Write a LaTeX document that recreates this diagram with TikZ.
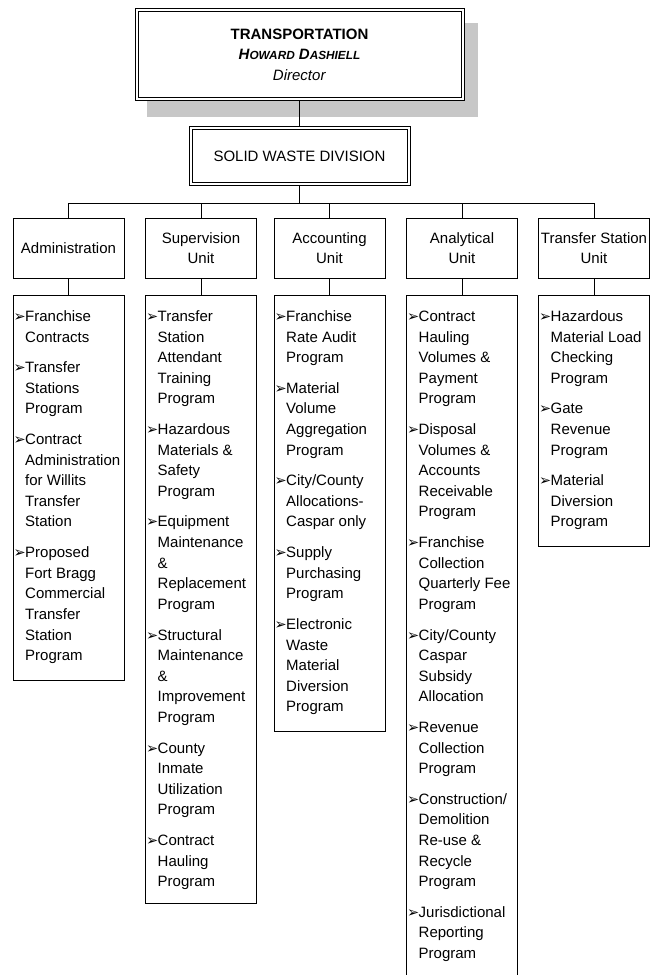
\documentclass[tikz,border=0pt]{standalone}
\usepackage{fontspec}
\setmainfont{Liberation Sans}
\newfontfamily\dvs{DejaVu Sans}
\tikzset{
  x=1pt, y=-1pt,
  conn/.style={draw, line width=0.8pt},
  obox/.style={draw, line width=0.7pt, fill=white, inner sep=0pt, align=center},
  ibord/.style={draw, line width=0.7pt, inner sep=0pt, align=center},
  lbox/.style={draw, line width=0.8pt, fill=white, inner sep=0pt, align=center, minimum width=111pt, minimum height=60pt},
  ibox/.style={draw, line width=0.8pt, minimum width=111pt, anchor=north, inner sep=0pt},
  itxt/.style={anchor=base west, inner sep=0pt},
}
\newcommand\bul{\makebox[11pt][l]{\hspace*{-0.5pt}\raisebox{0pt}{\dvs\fontsize{14.5}{12}\selectfont ➢}}}
\newcommand\bl[1]{\hbox{\bul#1}}
\newcommand\cl[1]{\hbox{\hspace*{11pt}#1}}
\newcommand\gp{\vskip10.27pt}
\newcommand\itemlist[1]{\vtop{\baselineskip=20.55pt\lineskiplimit=-100pt #1}}
\begin{document}
\begin{tikzpicture}[font=\fontsize{15}{20.55}\selectfont]
\useasboundingbox (0,0) rectangle (653,975);
% shadow of top box
\fill[black!22] (147,23) rectangle (478,117);
\node[obox, minimum width=329pt, minimum height=92pt] (top) at (299.5,54.5) {};
\node[ibord, minimum width=323pt, minimum height=86pt] (topin) at (299.5,54.5)
  {\textbf{TRANSPORTATION}\\
   \textbf{\textit{H{\fontsize{11.8}{12}\selectfont OWARD} D{\fontsize{11.8}{12}\selectfont ASHIELL}}}\\
   \textit{Director}};
\node[obox, minimum width=221pt, minimum height=59pt] (sw) at (299.5,156) {};
\node[ibord, minimum width=215pt, minimum height=53pt] (swin) at (299.5,156) {SOLID WASTE DIVISION};
% level 2
\node[lbox] (adm) at (68.5,248) {Administration};
\node[lbox] (sup) at (201,248) {Supervision\\Unit};
\node[lbox] (acc) at (329.5,248) {Accounting\\Unit};
\node[lbox] (ana) at (462,248) {Analytical\\Unit};
\node[lbox] (trs) at (594,248) {Transfer Station\\Unit};
% item boxes
\node[ibox, minimum height=385pt] (iadm) at (68.5,295) {};
\node[ibox, minimum height=608pt] (isup) at (201,295) {};
\node[ibox, minimum height=436pt] (iacc) at (329.5,295) {};
\node[ibox, minimum height=705pt] (iana) at (462,295) {};
\node[ibox, minimum height=251pt] (itrs) at (594,295) {};
% connectors
\coordinate (busL) at (68.5,203);
\coordinate (busR) at (594,203);
\draw[conn] (top.south) -- (sw.north);
\draw[conn] (sw.south) -- (sw.south |- busL);
\draw[conn] (busL) -- (busR);
\foreach \a/\b in {adm/iadm, sup/isup, acc/iacc, ana/iana, trs/itrs}{
  \draw[conn] (\a.north) -- (\a.north |- busL);
  \draw[conn] (\a.south) -- (\b.north);
}
% item texts
\node[itxt] (tadm) at (14,321.5) {\itemlist{%
\bl{Franchise}\cl{Contracts}\gp
\bl{Transfer}\cl{Stations}\cl{Program}\gp
\bl{Contract}\cl{Administration}\cl{for Willits}\cl{Transfer}\cl{Station}\gp
\bl{Proposed}\cl{Fort Bragg}\cl{Commercial}\cl{Transfer}\cl{Station}\cl{Program}}};
\node[itxt] (tsup) at (146.5,321.5) {\itemlist{%
\bl{Transfer}\cl{Station}\cl{Attendant}\cl{Training}\cl{Program}\gp
\bl{Hazardous}\cl{Materials \&}\cl{Safety}\cl{Program}\gp
\bl{Equipment}\cl{Maintenance}\cl{\&}\cl{Replacement}\cl{Program}\gp
\bl{Structural}\cl{Maintenance}\cl{\&}\cl{Improvement}\cl{Program}\gp
\bl{County}\cl{Inmate}\cl{Utilization}\cl{Program}\gp
\bl{Contract}\cl{Hauling}\cl{Program}}};
\node[itxt] (tacc) at (275,321.5) {\itemlist{%
\bl{Franchise}\cl{Rate Audit}\cl{Program}\gp
\bl{Material}\cl{Volume}\cl{Aggregation}\cl{Program}\gp
\bl{City/County}\cl{Allocations-}\cl{Caspar only}\gp
\bl{Supply}\cl{Purchasing}\cl{Program}\gp
\bl{Electronic}\cl{Waste}\cl{Material}\cl{Diversion}\cl{Program}}};
\node[itxt] (tana) at (407.5,321.5) {\itemlist{%
\bl{Contract}\cl{Hauling}\cl{Volumes \&}\cl{Payment}\cl{Program}\gp
\bl{Disposal}\cl{Volumes \&}\cl{Accounts}\cl{Receivable}\cl{Program}\gp
\bl{Franchise}\cl{Collection}\cl{Quarterly Fee}\cl{Program}\gp
\bl{City/County}\cl{Caspar}\cl{Subsidy}\cl{Allocation}\gp
\bl{Revenue}\cl{Collection}\cl{Program}\gp
\bl{Construction/}\cl{Demolition}\cl{Re-use \&}\cl{Recycle}\cl{Program}\gp
\bl{Jurisdictional}\cl{Reporting}\cl{Program}}};
\node[itxt] (ttrs) at (539.5,321.5) {\itemlist{%
\bl{Hazardous}\cl{Material Load}\cl{Checking}\cl{Program}\gp
\bl{Gate}\cl{Revenue}\cl{Program}\gp
\bl{Material}\cl{Diversion}\cl{Program}}};
\end{tikzpicture}
\end{document}
